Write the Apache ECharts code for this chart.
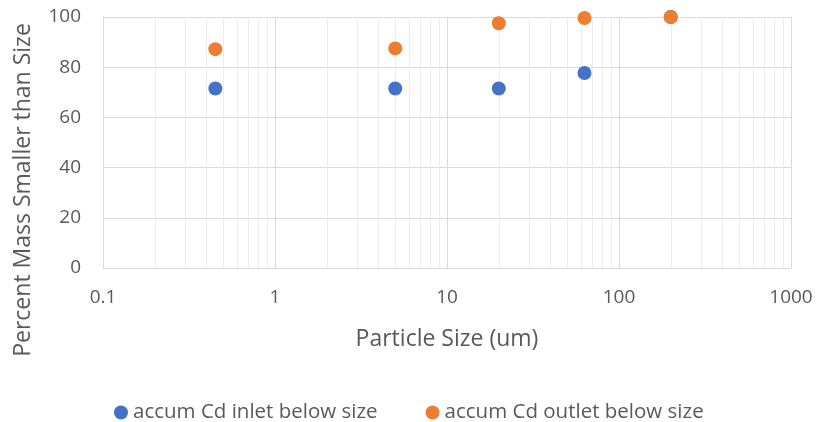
<!DOCTYPE html>
<html>
<head>
<meta charset="utf-8">
<script src="https://cdn.jsdelivr.net/npm/echarts@6/dist/echarts.min.js"></script>
<style>
  html, body { margin: 0; padding: 0; background: #fff; }
  #chart { width: 820px; height: 422px; }
</style>
</head>
<body>
<div id="chart"></div>
<script>
// particle sizes (um) and cumulative percent
const sizes = [0.45, 5, 20, 63, 200];
const inletPct = [71.5, 71.5, 71.5, 77.7, 100];
const outletPct = [87.2, 87.5, 97.5, 99.6, 100];
// minor grid positions for the log axis
const minorLines = [];
[0.1, 1, 10, 100].forEach(function (d) {
    for (let k = 2; k <= 9; k++) minorLines.push(+(d * k).toPrecision(3));
});

const FONT = '"Open Sans", "Liberation Sans", sans-serif';
const GREY = '#595959';
const chart = echarts.init(document.getElementById('chart'));

function pairs(ys) {
    return sizes.map(function (x, i) { return [x, ys[i]]; });
}

chart.setOption({
    animation: false,
    textStyle: { fontFamily: FONT },
    grid: { left: 103, right: 29, top: 17, bottom: 154 },
    // y title sits lower than the plot middle in the original
    graphic: [{
        type: 'text',
        x: 23,
        y: 190,
        rotation: Math.PI / 2,
        style: {
            text: 'Percent Mass Smaller than Size',
            fontSize: 23,
            fontFamily: FONT,
            fill: GREY,
            align: 'center',
            verticalAlign: 'middle'
        }
    }],
    xAxis: {
        type: 'log',
        logBase: 10,
        min: 0.1,
        max: 1000,
        name: 'Particle Size (um)',
        nameLocation: 'middle',
        nameGap: 60,
        nameTextStyle: { fontSize: 23, color: GREY, fontFamily: FONT },
        axisLine: { show: true, lineStyle: { color: '#d9d9d9' } },
        axisTick: { show: false },
        axisLabel: {
            fontSize: 19, color: GREY, margin: 20,
            formatter: function (v) { return String(+v.toPrecision(3)); }
        },
        splitLine: { show: true, lineStyle: { color: '#d9d9d9', width: 1 } }
    },
    yAxis: {
        type: 'value',
        min: 0,
        max: 100,
        interval: 20,
        axisLine: { show: true, lineStyle: { color: '#d9d9d9' } },
        axisTick: { show: false },
        axisLabel: { fontSize: 19, color: GREY, margin: 22 },
        splitLine: { show: true, lineStyle: { color: '#d9d9d9', width: 1 } }
    },
    legend: {
        top: 397,
        left: 109,
        itemGap: 48,
        itemWidth: 14,
        itemHeight: 14,
        icon: 'circle',
        textStyle: { fontSize: 20.5, color: GREY, fontFamily: FONT },
        data: ['accum Cd inlet below size', 'accum Cd outlet below size']
    },
    series: [
        {
            name: 'accum Cd inlet below size',
            type: 'scatter',
            symbolSize: 14,
            itemStyle: { color: '#4472c4', opacity: 1 },
            data: pairs(inletPct),
            z: 3,
            markLine: {
                silent: true,
                symbol: 'none',
                label: { show: false },
                lineStyle: { color: '#ececec', width: 1, type: 'solid' },
                data: minorLines.map(function (v) { return { xAxis: v }; }),
                z: 1
            }
        },
        {
            name: 'accum Cd outlet below size',
            type: 'scatter',
            symbolSize: 14,
            itemStyle: { color: '#ed7d31', opacity: 1 },
            data: pairs(outletPct),
            z: 3
        }
    ]
});
</script>
</body>
</html>
